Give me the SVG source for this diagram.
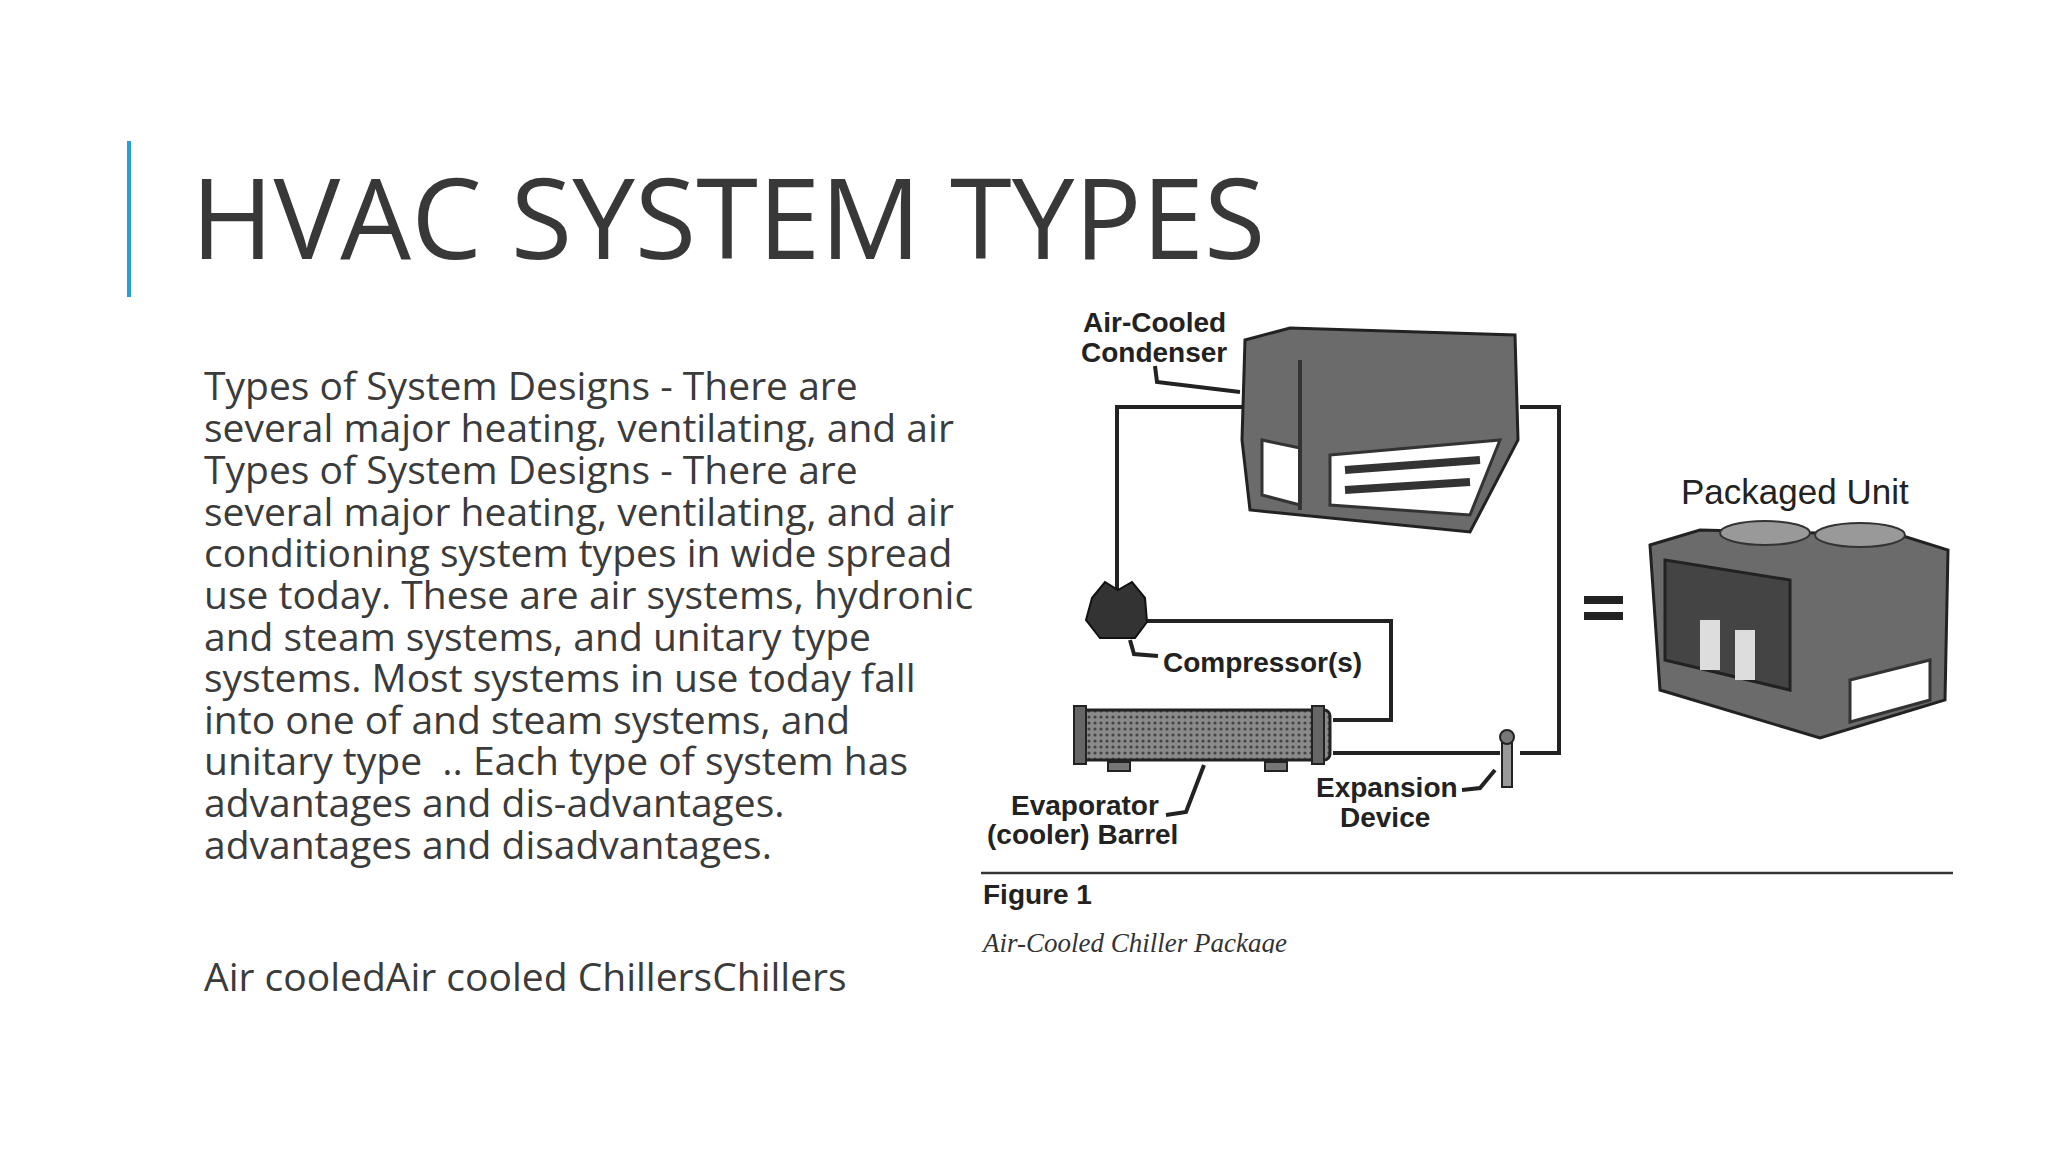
<svg xmlns="http://www.w3.org/2000/svg" width="2048" height="1152" viewBox="0 0 2048 1152">
<style>
.body{font-family:"Open Sans","Noto Sans",sans-serif;font-size:39px;fill:#3b3b3b}
.lbl{font-family:"Liberation Sans",Arial,sans-serif;font-size:28px;font-weight:bold;fill:#222}
.pipe{fill:none;stroke:#222;stroke-width:4}
.unit{fill:#6b6b6b;stroke:#222;stroke-width:3}
</style>
<defs>
<pattern id="dots" width="6" height="6" patternUnits="userSpaceOnUse"><rect width="6" height="6" fill="#8a8a8a"/><circle cx="3" cy="3" r="1.6" fill="#444"/></pattern>
<clipPath id="figclip"><rect x="975" y="290" width="990" height="663"/></clipPath>
</defs>
<rect width="2048" height="1152" fill="#fff"/>
<rect x="127" y="141" width="4" height="156" fill="#2a9fd6"/>
<text x="191" y="259" font-family="'Open Sans','Noto Sans',sans-serif" font-size="112" fill="#383838">HVAC SYSTEM TYPES</text>
<g id="bodytext">
<text class="body" x="204" y="400">Types of System Designs - There are</text>
<text class="body" x="204" y="442">several major heating, ventilating, and air</text>
<text class="body" x="204" y="484">Types of System Designs - There are</text>
<text class="body" x="204" y="526">several major heating, ventilating, and air</text>
<text class="body" x="204" y="567">conditioning system types in wide spread</text>
<text class="body" x="204" y="609">use today. These are air systems, hydronic</text>
<text class="body" x="204" y="651">and steam systems, and unitary type</text>
<text class="body" x="204" y="692">systems. Most systems in use today fall</text>
<text class="body" x="204" y="734">into one of and steam systems, and</text>
<text class="body" x="204" y="775" xml:space="preserve">unitary type  .. Each type of system has</text>
<text class="body" x="204" y="817">advantages and dis-advantages.</text>
<text class="body" x="204" y="859">advantages and disadvantages.</text>
<text class="body" x="204" y="991">Air cooledAir cooled ChillersChillers</text>
</g>
<g id="figure" clip-path="url(#figclip)">
<g id="connectors">
<polyline class="pipe" points="1245,407 1117,407 1117,590"/>
<polyline class="pipe" points="1520,407 1559,407 1559,753 1520,753"/>
<polyline class="pipe" points="1147,621 1391,621 1391,720 1333,720"/>
<polyline class="pipe" points="1333,753 1500,753"/>
<polyline class="pipe" stroke-width="2.5" points="1155,366 1157,382 1240,392"/>
<polyline class="pipe" stroke-width="2.5" points="1130,640 1134,654 1158,656"/>
<polyline class="pipe" stroke-width="2.5" points="1204,765 1186,812 1166,815"/>
<polyline class="pipe" stroke-width="2.5" points="1495,770 1480,788 1462,790"/>
</g>
<g id="condenser">
<polygon class="unit" fill="url(#dots)" points="1245,340 1290,328 1515,335 1518,440 1470,532 1250,510 1242,440"/>
<polygon points="1262,440 1300,448 1300,505 1262,495" fill="#fff" stroke="#333" stroke-width="3"/>
<polygon points="1330,455 1500,440 1470,515 1330,505" fill="#fff" stroke="#333" stroke-width="3"/>
<line x1="1345" y1="470" x2="1480" y2="460" stroke="#333" stroke-width="8"/>
<line x1="1345" y1="490" x2="1470" y2="482" stroke="#333" stroke-width="8"/>
<line x1="1300" y1="360" x2="1300" y2="510" stroke="#333" stroke-width="4"/>
</g>
<g id="compressor">
<path d="M1092,598 L1105,582 L1118,590 L1132,582 L1145,598 L1147,622 L1135,638 L1100,638 L1086,620 Z" fill="#333" stroke="#111" stroke-width="2"/>
</g>
<g id="evaporator">
<rect x="1080" y="710" width="250" height="50" rx="6" fill="url(#dots)" stroke="#222" stroke-width="3"/>
<rect x="1074" y="706" width="12" height="58" fill="#666" stroke="#222" stroke-width="2"/>
<rect x="1312" y="706" width="12" height="58" fill="#666" stroke="#222" stroke-width="2"/>
<rect x="1108" y="762" width="22" height="9" fill="#777" stroke="#222" stroke-width="2"/>
<rect x="1265" y="762" width="22" height="9" fill="#777" stroke="#222" stroke-width="2"/>
</g>
<g id="expansion">
<rect x="1502" y="737" width="10" height="50" fill="#999" stroke="#222" stroke-width="2"/>
<circle cx="1507" cy="737" r="7" fill="#777" stroke="#222" stroke-width="2"/>
</g>
<text class="lbl" x="1083" y="332">Air-Cooled</text>
<text class="lbl" x="1081" y="362">Condenser</text>
<text class="lbl" x="1163" y="672">Compressor(s)</text>
<text class="lbl" x="1011" y="815">Evaporator</text>
<text class="lbl" x="987" y="844">(cooler) Barrel</text>
<text class="lbl" x="1316" y="797">Expansion</text>
<text class="lbl" x="1340" y="827">Device</text>
<rect x="1584" y="596" width="39" height="8" fill="#222"/>
<rect x="1584" y="612" width="39" height="8" fill="#222"/>
<text x="1681" y="504" font-family="'Liberation Sans',Arial,sans-serif" font-size="35" fill="#222">Packaged Unit</text>
<g id="packaged-unit">
<polygon class="unit" fill="url(#dots)" points="1650,545 1700,530 1900,535 1948,550 1945,700 1820,738 1660,690"/>
<polygon points="1665,560 1790,580 1790,690 1665,660" fill="#444" stroke="#222" stroke-width="3"/>
<rect x="1700" y="620" width="20" height="50" fill="#ddd"/>
<rect x="1735" y="630" width="20" height="50" fill="#ddd"/>
<polygon points="1850,680 1930,660 1930,700 1850,722" fill="#fff" stroke="#333" stroke-width="3"/>
<ellipse cx="1765" cy="533" rx="45" ry="12" fill="#999" stroke="#333" stroke-width="2"/>
<ellipse cx="1860" cy="535" rx="45" ry="12" fill="#999" stroke="#333" stroke-width="2"/>
</g>
<line x1="981" y1="873" x2="1953" y2="873" stroke="#333" stroke-width="2.5"/>
<text class="lbl" x="983" y="904">Figure 1</text>
<text x="983" y="952" font-family="'Liberation Serif','Times New Roman',serif" font-style="italic" font-size="27" fill="#333">Air-Cooled Chiller Package</text>
</g>
</svg>
